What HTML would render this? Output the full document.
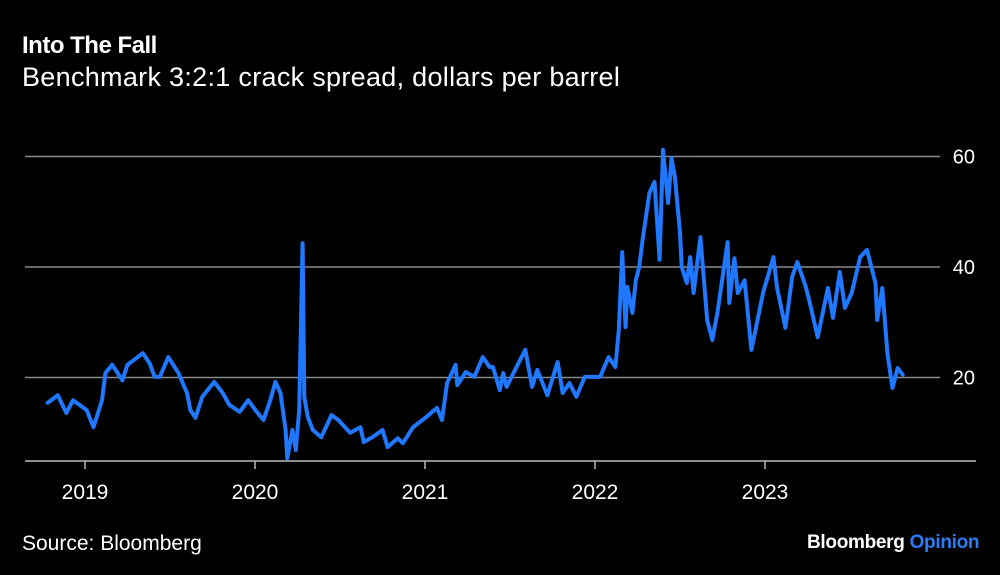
<!DOCTYPE html>
<html><head><meta charset="utf-8"><style>
html,body{margin:0;padding:0;background:#000;}
body{width:1000px;height:575px;overflow:hidden;position:relative;font-family:"Liberation Sans",sans-serif;color:#fff;}
.t{position:absolute;white-space:nowrap;}
</style></head><body>
<div class="t" style="left:22px;top:32px;font-size:24px;font-weight:bold;letter-spacing:-0.5px;">Into The Fall</div>
<div class="t" style="left:22px;top:62px;font-size:27px;letter-spacing:0.3px;">Benchmark 3:2:1 crack spread, dollars per barrel</div>
<svg id="chart" width="1000" height="575" style="position:absolute;left:0;top:0;"></svg>
<div class="t" style="left:22px;top:532px;font-size:21px;">Source: Bloomberg</div>
<div class="t" style="left:807px;top:532px;font-size:19px;font-weight:bold;letter-spacing:-0.3px;">Bloomberg <span style="color:#2d7cf6">Opinion</span></div>
<script>
const dates=[2018.78,2018.84,2018.89,2018.93,2019.01,2019.05,2019.10,2019.12,2019.16,2019.22,2019.25,2019.31,2019.34,2019.38,2019.41,2019.44,2019.49,2019.55,2019.60,2019.62,2019.65,2019.69,2019.76,2019.81,2019.85,2019.91,2019.96,2020.01,2020.05,2020.09,2020.12,2020.15,2020.18,2020.19,2020.22,2020.24,2020.26,2020.28,2020.29,2020.31,2020.34,2020.39,2020.45,2020.49,2020.56,2020.62,2020.64,2020.69,2020.75,2020.78,2020.84,2020.87,2020.93,2021.01,2021.07,2021.10,2021.13,2021.18,2021.19,2021.24,2021.29,2021.34,2021.38,2021.40,2021.44,2021.46,2021.48,2021.53,2021.59,2021.63,2021.66,2021.72,2021.78,2021.81,2021.85,2021.89,2021.94,2022.03,2022.08,2022.12,2022.14,2022.16,2022.18,2022.19,2022.22,2022.24,2022.26,2022.28,2022.32,2022.35,2022.38,2022.40,2022.43,2022.45,2022.47,2022.50,2022.51,2022.54,2022.56,2022.58,2022.62,2022.66,2022.69,2022.72,2022.78,2022.79,2022.82,2022.84,2022.88,2022.92,2022.96,2022.99,2023.05,2023.07,2023.12,2023.16,2023.19,2023.24,2023.26,2023.31,2023.37,2023.40,2023.44,2023.47,2023.51,2023.56,2023.60,2023.65,2023.66,2023.69,2023.72,2023.75,2023.78,2023.81];
const values=[15.4,16.8,13.6,15.9,14.1,11.0,15.9,20.8,22.3,19.5,22.3,23.7,24.4,22.6,20.1,20.1,23.7,20.8,17.2,14.1,12.7,16.5,19.2,17.2,15.0,13.8,15.9,13.8,12.3,15.9,19.2,17.2,10.5,5.4,10.5,6.9,14.1,44.3,16.5,12.9,10.5,9.2,13.2,12.3,10.0,11.0,8.3,9.2,10.5,7.4,9.0,8.1,11.0,12.9,14.5,12.3,19.0,22.3,18.6,21.0,20.1,23.7,21.9,21.9,17.7,20.8,18.3,21.4,25.0,18.3,21.4,16.8,22.8,17.2,19.0,16.5,20.1,20.1,23.7,21.9,28.6,42.7,29.1,36.4,31.7,37.6,40.0,44.9,53.4,55.4,41.3,61.2,51.6,59.7,56.3,46.2,40.0,37.1,41.8,35.3,45.4,30.4,26.8,31.7,44.5,33.5,41.6,35.3,37.6,25.0,31.0,35.5,41.8,36.4,29.0,38.2,40.9,36.4,34.0,27.3,36.2,30.8,39.1,32.6,35.3,41.8,43.1,37.1,30.4,36.2,24.4,18.1,21.7,20.5];
const yTicks=[20,40,60];
const xTicks=[2019,2020,2021,2022,2023];
const NS="http://www.w3.org/2000/svg";
const svg=document.getElementById('chart');
const xs=v=>85+(v-2019)*170;
const ys=v=>488-v*5.525;
function mk(tag,attrs){const e=document.createElementNS(NS,tag);for(const k in attrs)e.setAttribute(k,attrs[k]);svg.appendChild(e);return e;}
yTicks.forEach(v=>{
  const l=mk('line',{x1:25,x2:940,y1:ys(v),y2:ys(v),stroke:'#8a8a8a','stroke-width':1.5});
  
  
  const t=mk('text',{x:975,y:ys(v)+7,fill:'#fff','font-size':20,'text-anchor':'end','font-family':'Liberation Sans, sans-serif'});
  t.textContent=v;
  
  
});
const ax=mk('line',{x1:25,x2:976,y1:461,y2:461,stroke:'#bbb','stroke-width':1.5});


xTicks.forEach(v=>{
  const l=mk('line',{x1:xs(v),x2:xs(v),y1:461,y2:469,stroke:'#bbb','stroke-width':1.5});
  
  
  const t=mk('text',{x:xs(v),y:499,fill:'#fff','font-size':21,'text-anchor':'middle','font-family':'Liberation Sans, sans-serif'});
  t.textContent=v;
  
  
});
const d=dates.map((x,i)=>(i?'L':'M')+xs(x).toFixed(1)+','+ys(values[i]).toFixed(1)).join('');
const p=mk('path',{d:d,fill:'none',stroke:'#1f78ff','stroke-width':4,'stroke-linejoin':'round','stroke-linecap':'round'});


</script>
</body></html>
